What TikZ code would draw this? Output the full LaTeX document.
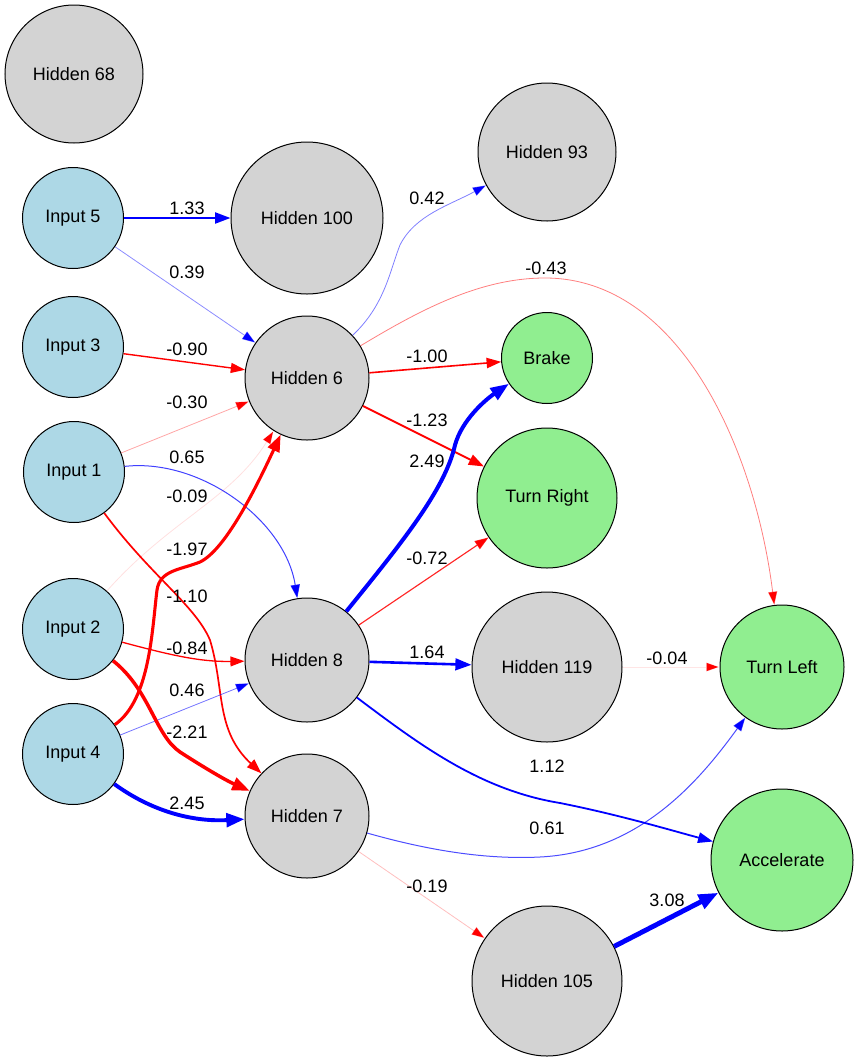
\documentclass[tikz,border=0pt]{standalone}
\usepackage{fontspec}
\setmainfont{Liberation Sans}
\usetikzlibrary{arrows.meta}
\definecolor{inblue}{HTML}{ADD8E6}
\definecolor{hidgray}{HTML}{D3D3D3}
\definecolor{outgreen}{HTML}{90EE90}
\definecolor{pblue}{HTML}{0000FF}
\definecolor{nred}{HTML}{FF0000}
\begin{document}
\begin{tikzpicture}[x=1pt,y=-1pt,
  font=\fontsize{18}{20}\selectfont,
  neuron/.style={circle,draw=black,line width=1pt,inner sep=0pt},
  inp/.style={neuron,fill=inblue,minimum size=101pt},
  hid/.style={neuron,fill=hidgray},
  outp/.style={neuron,fill=outgreen},
  wedge/.style n args={3}{draw=#1,line width=#2pt,draw opacity=#3,
    -{Triangle[length=12pt 1.6,width=8pt 1.4]}},
  lbl/.style={inner sep=0pt}]
\useasboundingbox (0,0) rectangle (858,1061);
% nodes
\node[hid,minimum size=138pt] (h68) at (74,74) {Hidden 68};
\node[inp] (i5) at (73,218) {Input 5};
\node[hid,minimum size=152pt] (h100) at (307,218) {Hidden 100};
\node[hid,minimum size=138pt] (h93) at (547,152) {Hidden 93};
\node[inp] (i3) at (73,347) {Input 3};
\node[hid,minimum size=124pt] (h6) at (307,378) {Hidden 6};
\node[outp,minimum size=91pt] (br) at (547,358) {Brake};
\node[inp] (i1) at (74,472) {Input 1};
\node[outp,minimum size=140pt] (tr) at (547,498) {Turn Right};
\node[inp] (i2) at (73,629) {Input 2};
\node[hid,minimum size=124pt] (h8) at (307,660) {Hidden 8};
\node[hid,minimum size=150pt] (h119) at (547,667) {Hidden 119};
\node[outp,minimum size=124pt] (tl) at (782,667) {Turn Left};
\node[inp] (i4) at (73,754) {Input 4};
\node[hid,minimum size=124pt] (h7) at (307,816) {Hidden 7};
\node[outp,minimum size=142pt] (acc) at (782,860) {Accelerate};
\node[hid,minimum size=150pt] (h105) at (547,981) {Hidden 105};
% edges
\draw[wedge={pblue}{2.1}{1}] (i5) -- (h100);
\draw[wedge={pblue}{0.8}{0.45}] (i5) -- (h6);
\draw[wedge={nred}{1.4}{1}] (i3) -- (h6);
\draw[wedge={nred}{0.8}{0.35}] (i1) -- (h6);
\draw[wedge={pblue}{1.0}{0.75}] (i1) .. controls (200,458) and (285,520) .. (h8);
\draw[wedge={nred}{0.8}{0.12}] (i2) .. controls (170,520) and (230,500) .. (h6);
\draw[wedge={nred}{3.1}{1}] (i4) .. controls (150,700) and (152,630) .. (157,590) .. controls (160,570) and (180,570) .. (200,562) .. controls (225,550) and (255,490) .. (h6);
\draw[wedge={nred}{1.7}{1}] (i1) .. controls (150,575) and (195,605) .. (210,640) .. controls (225,690) and (215,730) .. (h7);
\draw[wedge={nred}{1.3}{1}] (i2) .. controls (170,655) and (200,662) .. (h8);
\draw[wedge={pblue}{0.8}{0.55}] (i4) -- (h8);
\draw[wedge={nred}{3.5}{1}] (i2) .. controls (150,690) and (155,735) .. (180,752) .. controls (200,765) and (225,780) .. (h7);
\draw[wedge={pblue}{3.9}{1}] (i4) .. controls (150,810) and (190,822) .. (h7);
\draw[wedge={pblue}{0.8}{0.5}] (h6) .. controls (385,305) and (390,270) .. (400,245) .. controls (415,215) and (450,205) .. (h93);
\draw[wedge={nred}{0.8}{0.5}] (h6) .. controls (420,310) and (480,278) .. (545,278) .. controls (680,278) and (755,450) .. (tl);
\draw[wedge={nred}{1.6}{1}] (h6) -- (br);
\draw[wedge={nred}{2.0}{1}] (h6) -- (tr);
\draw[wedge={pblue}{4.0}{1}] (h8) .. controls (400,545) and (445,490) .. (455,445) .. controls (462,420) and (485,400) .. (br);
\draw[wedge={nred}{1.15}{0.85}] (h8) -- (tr);
\draw[wedge={pblue}{2.6}{1}] (h8) -- (h119);
\draw[wedge={pblue}{1.8}{1}] (h8) .. controls (420,745) and (480,790) .. (560,803) .. controls (620,815) and (670,830) .. (acc);
\draw[wedge={pblue}{1.0}{0.7}] (h7) .. controls (420,848) and (480,860) .. (540,857) .. controls (640,852) and (700,780) .. (tl);
\draw[wedge={nred}{0.8}{0.25}] (h7) -- (h105);
\draw[wedge={nred}{0.8}{0.1}] (h119) -- (tl);
\draw[wedge={pblue}{4.9}{1}] (h105) -- (acc);
% labels
\node[lbl] (l1) at (187,208) {1.33};
\node[lbl] (l2) at (187,272) {0.39};
\node[lbl] (l3) at (187,349) {-0.90};
\node[lbl] (l4) at (187,402) {-0.30};
\node[lbl] (l5) at (187,457) {0.65};
\node[lbl] (l6) at (187,496) {-0.09};
\node[lbl] (l7) at (187,549) {-1.97};
\node[lbl] (l8) at (187,596) {-1.10};
\node[lbl] (l9) at (187,648) {-0.84};
\node[lbl] (l10) at (187,690) {0.46};
\node[lbl] (l11) at (187,732) {-2.21};
\node[lbl] (l12) at (187,803) {2.45};
\node[lbl] (l13) at (427,198) {0.42};
\node[lbl] (l14) at (546,268) {-0.43};
\node[lbl] (l15) at (427,356) {-1.00};
\node[lbl] (l16) at (427,420) {-1.23};
\node[lbl] (l17) at (427,461) {2.49};
\node[lbl] (l18) at (427,558) {-0.72};
\node[lbl] (l19) at (427,652) {1.64};
\node[lbl] (l20) at (547,766) {1.12};
\node[lbl] (l21) at (547,828) {0.61};
\node[lbl] (l22) at (427,886) {-0.19};
\node[lbl] (l23) at (667,658) {-0.04};
\node[lbl] (l24) at (667,900) {3.08};
\end{tikzpicture}
\end{document}
